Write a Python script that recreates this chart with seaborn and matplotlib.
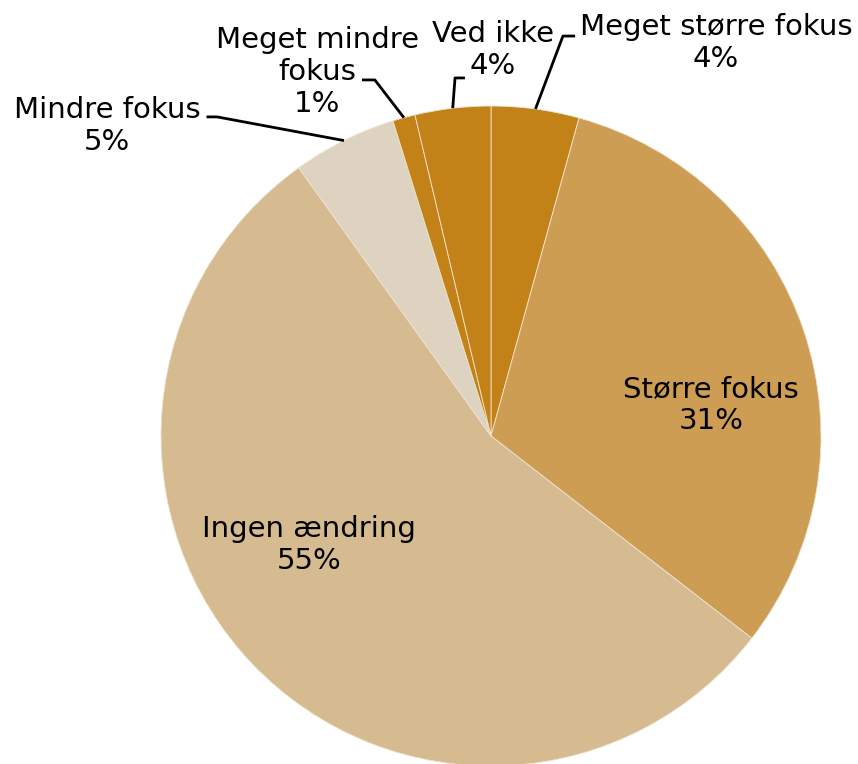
import numpy as np
import seaborn as sns
import matplotlib.pyplot as plt

categories = ['Meget større fokus', 'Større fokus', 'Ingen ændring',
              'Mindre fokus', 'Meget mindre fokus', 'Ved ikke']
values = [4.3, 31.2, 54.6, 5.1, 1.1, 3.7]
colors = ['#C38217', '#CC9D53', '#D5BB8F', '#DED3C1', '#C38217', '#C38217']
label_text = ['Meget større fokus', 'Større fokus', 'Ingen ændring',
              'Mindre fokus', 'Meget mindre\nfokus', 'Ved ikke']

sns.set_theme(style='white')
plt.rcParams['font.family'] = ['DejaVu Sans']

fig = plt.figure(figsize=(8.58, 7.64), dpi=100)
ax = fig.add_axes([0, 0, 1, 1])
wedges, _ = ax.pie(values, colors=sns.color_palette(colors), startangle=90,
                   counterclock=False, radius=1,
                   wedgeprops=dict(edgecolor='#EFE3CF', linewidth=0.6))

# label positions (text centre) and leader line (elbow, end) for outer labels
text_pos = [(0.682, 1.191), (0.667, 0.094), (-0.552, -0.330),
            (-1.164, 0.939), (-0.527, 1.103), (0.006, 1.170)]
leaders = {0: [(0.218, 1.212), (0.255, 1.212)],
           3: [(-0.830, 0.967), (-0.862, 0.967)],
           4: [(-0.352, 1.079), (-0.391, 1.079)],
           5: [(-0.109, 1.085), (-0.079, 1.085)]}

total = sum(values)
for i, w in enumerate(wedges):
    pct = '%d%%' % round(values[i] / total * 100)
    ax.text(text_pos[i][0], text_pos[i][1], label_text[i] + '\n' + pct,
            ha='center', va='center', fontsize=21, color='black',
            linespacing=1.2)
    if i in leaders:
        mid = np.deg2rad((w.theta1 + w.theta2) / 2)
        pts = [(np.cos(mid), np.sin(mid))] + leaders[i]
        xs, ys = zip(*pts)
        ax.plot(xs, ys, color='black', lw=2, solid_capstyle='butt')

ax.set_xlim(-491 / 330, 367 / 330)
ax.set_ylim(-328 / 330, 436 / 330)
ax.set_aspect('auto')
ax.axis('off')

fig.savefig('out.png', dpi=100)
